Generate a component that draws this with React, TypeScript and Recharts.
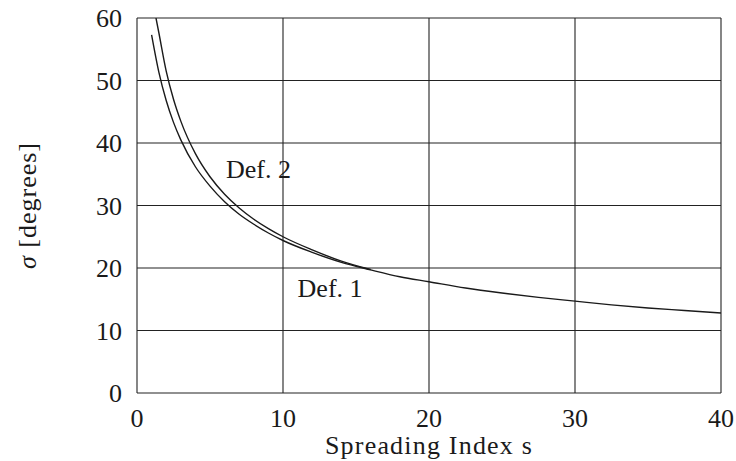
import React from "react";
import {
  LineChart,
  Line,
  XAxis,
  YAxis,
  CartesianGrid,
  ReferenceDot,
} from "recharts";

/* values */
const sDef1 = [1, 1.5, 2, 2.5, 3, 4, 5, 6, 7, 8, 9, 10, 12, 14, 16, 18, 20, 22.5, 25, 27.5, 30, 32.5, 35, 37.5, 40];
const sigmaDef1 = [57.3, 51.3, 46.8, 43.3, 40.5, 36.2, 33.1, 30.6, 28.6, 27.0, 25.6, 24.4, 22.5, 20.9, 19.7, 18.6, 17.8, 16.8, 16.0, 15.3, 14.7, 14.1, 13.6, 13.2, 12.8];

const sDef2 = [1.3, 1.5, 2, 2.5, 3, 4, 5, 6, 7, 8, 9, 10, 12, 14, 16];
const sigmaDef2 = [60.0, 57.6, 51.5, 47.0, 43.5, 38.3, 34.6, 31.8, 29.6, 27.8, 26.3, 25.0, 22.9, 21.1, 19.75];

const xTicks = [0, 10, 20, 30, 40];
const yTicks = [0, 10, 20, 30, 40, 50, 60];

/* where the curve labels sit, in data units */
const labelDef2 = { s: 6.1, sigma: 34.4, text: "Def. 2" };
const labelDef1 = { s: 11.0, sigma: 15.4, text: "Def. 1" };

const def1 = sDef1.map((s, i) => ({ s, sigma: sigmaDef1[i] }));
const def2 = sDef2.map((s, i) => ({ s, sigma: sigmaDef2[i] }));

const FONT = "'Liberation Serif', 'Times New Roman', serif";
const INK = "#1a1a1a";

const textAt = (txt: string) => (props: any) => {
  const vb = props.viewBox || {};
  return (
    <text x={vb.x + 1} y={vb.y + 1} fontFamily={FONT} fontSize={26} fill={INK}>
      {txt}
    </text>
  );
};

const yLabel = (props: any) => {
  const vb = props.viewBox || {};
  const cx = 27;
  const cy = vb.y + vb.height / 2;
  return (
    <text
      x={cx}
      y={cy}
      transform={`rotate(-90, ${cx}, ${cy})`}
      textAnchor="middle"
      dominantBaseline="central"
      fontFamily={FONT}
      fontSize={26}
      letterSpacing={1}
      fill={INK}
    >
      <tspan fontStyle="italic">σ</tspan> [degrees]
    </text>
  );
};

const xLabel = (props: any) => {
  const vb = props.viewBox || {};
  return (
    <text
      x={vb.x + vb.width / 2}
      y={454}
      textAnchor="middle"
      fontFamily={FONT}
      fontSize={26}
      letterSpacing={1.2}
      fill={INK}
    >
      Spreading Index s
    </text>
  );
};

export default function App() {
  return (
    <div style={{ position: "absolute", left: 0, top: 0, background: "#fff" }}>
      <LineChart
        width={736}
        height={461}
        margin={{ top: 18, right: 15, bottom: 0, left: 0 }}
      >
        <CartesianGrid stroke="#222" strokeWidth={1.1} />
        <XAxis
          type="number"
          dataKey="s"
          domain={[0, 40]}
          ticks={xTicks}
          axisLine={false}
          tickLine={false}
          tickSize={0}
          tickMargin={16}
          height={68}
          tick={{ fontFamily: FONT, fontSize: 26, fill: INK }}
          label={{ content: xLabel }}
        />
        <YAxis
          type="number"
          domain={[0, 60]}
          allowDataOverflow
          ticks={yTicks}
          axisLine={false}
          tickLine={false}
          tickSize={0}
          tickMargin={15}
          width={137}
          tick={{ fontFamily: FONT, fontSize: 26, fill: INK }}
          label={{ content: yLabel }}
        />
        <Line
          data={def1}
          dataKey="sigma"
          type="monotone"
          stroke={INK}
          strokeWidth={1.4}
          dot={false}
          isAnimationActive={false}
        />
        <Line
          data={def2}
          dataKey="sigma"
          type="monotone"
          stroke={INK}
          strokeWidth={1.4}
          dot={false}
          isAnimationActive={false}
        />
        <ReferenceDot
          x={labelDef2.s}
          y={labelDef2.sigma}
          r={1}
          fill="none"
          stroke="none"
          label={{ content: textAt(labelDef2.text) }}
        />
        <ReferenceDot
          x={labelDef1.s}
          y={labelDef1.sigma}
          r={1}
          fill="none"
          stroke="none"
          label={{ content: textAt(labelDef1.text) }}
        />
      </LineChart>
    </div>
  );
}
